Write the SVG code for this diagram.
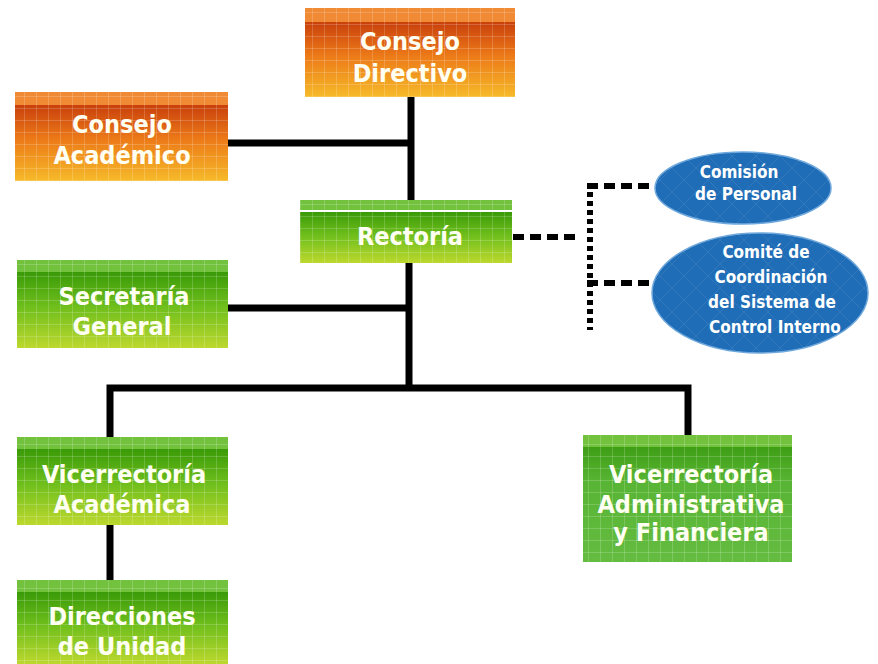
<svg xmlns="http://www.w3.org/2000/svg" width="878" height="664" viewBox="0 0 878 664">
<defs>
  <linearGradient id="gOrange" x1="0" y1="0" x2="0" y2="1">
    <stop offset="0" stop-color="#C8400C"/>
    <stop offset="0.45" stop-color="#EC7A18"/>
    <stop offset="1" stop-color="#F6BA2A"/>
  </linearGradient>
  <linearGradient id="gGreen" x1="0" y1="0" x2="0" y2="1">
    <stop offset="0" stop-color="#3A9A08"/>
    <stop offset="0.45" stop-color="#6EBE1C"/>
    <stop offset="1" stop-color="#BCD82E"/>
  </linearGradient>
  <linearGradient id="gGreen2" x1="0" y1="0" x2="0" y2="1">
    <stop offset="0" stop-color="#3E9E14"/>
    <stop offset="0.3" stop-color="#58B434"/>
    <stop offset="1" stop-color="#64BC40"/>
  </linearGradient>
  <pattern id="grid" width="12" height="12" patternUnits="userSpaceOnUse">
    <path d="M0 0.5H12M0.5 0V12" stroke="#FFFFFF" stroke-opacity="0.18" stroke-width="1" fill="none"/>
  </pattern>
  <pattern id="diam" width="24" height="24" patternUnits="userSpaceOnUse">
    <path d="M0 0L24 24M24 0L0 24" stroke="#FFFFFF" stroke-opacity="0.08" stroke-width="1" fill="none"/>
  </pattern>
</defs>
<style>
  .t { font-family: "DejaVu Sans Condensed", "DejaVu Sans", sans-serif; font-stretch: condensed; font-weight: bold; font-size: 25px; fill: #FFFFF2; text-anchor: middle; }
  .s { font-family: "DejaVu Sans Condensed", "DejaVu Sans", sans-serif; font-stretch: condensed; font-weight: bold; font-size: 17px; fill: #FFFFFF; text-anchor: middle; }
  .band-o { fill: #F08A34; }
  .band-g { fill: #72C23E; }
  .body-o { fill: url(#gOrange); }
  .body-g { fill: url(#gGreen); }
  .tex { fill: url(#grid); }
  .ell { fill: #1F6DB6; stroke: #6FA8DC; stroke-width: 1.5; }
  .line { stroke: #000000; stroke-width: 7; fill: none; }
  .dash { stroke: #000000; stroke-width: 6; fill: none; stroke-dasharray: 11 6; }
  .dot { stroke: #000000; stroke-width: 6; fill: none; stroke-dasharray: 5 4; }
</style>

<g id="connectors">
  <path class="line" d="M411 97V200"/>
  <path class="line" d="M228 143H411"/>
  <path class="line" d="M409 263V388"/>
  <path class="line" d="M228 308H409"/>
  <path class="line" d="M110 437V388H688V435"/>
  <path class="line" d="M110 525V580"/>
  <path class="dash" d="M513 237H576"/>
  <path class="dot" d="M590 183V330"/>
  <path class="dash" d="M587 186H655"/>
  <path class="dash" d="M587 283H653"/>
</g>

<g id="consejo-directivo">
  <rect class="band-o" x="305" y="8" width="210" height="14"/>
  <rect class="body-o" x="305" y="22" width="210" height="75"/>
  <rect class="tex" x="305" y="8" width="210" height="89"/>
  <text class="t" x="410" y="50">Consejo</text>
  <text class="t" x="410" y="82">Directivo</text>
</g>

<g id="consejo-academico">
  <rect class="band-o" x="15" y="92" width="213" height="13"/>
  <rect class="body-o" x="15" y="105" width="213" height="76"/>
  <rect class="tex" x="15" y="92" width="213" height="89"/>
  <text class="t" x="122" y="133">Consejo</text>
  <text class="t" x="122" y="164">Académico</text>
</g>

<g id="rectoria">
  <rect class="band-g" x="300" y="200" width="212" height="10"/>
  <rect class="body-g" x="300" y="212" width="212" height="51"/>
  <rect class="tex" x="300" y="200" width="212" height="63"/>
  <text class="t" x="410" y="245">Rectoría</text>
</g>

<g id="secretaria-general">
  <rect class="band-g" x="17" y="260" width="211" height="12"/>
  <rect class="body-g" x="17" y="272" width="211" height="76"/>
  <rect class="tex" x="17" y="260" width="211" height="88"/>
  <text class="t" x="124" y="305">Secretaría</text>
  <text class="t" x="122" y="335">General</text>
</g>

<g id="vicerrectoria-academica">
  <rect class="band-g" x="17" y="437" width="211" height="12"/>
  <rect class="body-g" x="17" y="449" width="211" height="76"/>
  <rect class="tex" x="17" y="437" width="211" height="88"/>
  <text class="t" x="124" y="483">Vicerrectoría</text>
  <text class="t" x="122" y="513">Académica</text>
</g>

<g id="direcciones-unidad">
  <rect class="band-g" x="17" y="580" width="211" height="12"/>
  <rect class="body-g" x="17" y="592" width="211" height="72"/>
  <rect class="tex" x="17" y="580" width="211" height="84"/>
  <text class="t" x="122" y="625">Direcciones</text>
  <text class="t" x="122" y="655">de Unidad</text>
</g>

<g id="vicerrectoria-administrativa">
  <rect class="band-g" x="583" y="435" width="209" height="12"/>
  <rect x="583" y="447" width="209" height="115" fill="url(#gGreen2)"/>
  <rect class="tex" x="583" y="435" width="209" height="127"/>
  <text class="t" x="691" y="483">Vicerrectoría</text>
  <text class="t" x="691" y="513">Administrativa</text>
  <text class="t" x="691" y="541">y Financiera</text>
</g>

<g id="comision-personal">
  <ellipse class="ell" cx="743" cy="188" rx="88" ry="36"/>
  <ellipse cx="743" cy="188" rx="88" ry="36" fill="url(#diam)"/>
  <text class="s" x="739" y="178">Comisión</text>
  <text class="s" x="746" y="200">de  Personal</text>
</g>

<g id="comite-coordinacion">
  <ellipse class="ell" cx="760" cy="293" rx="108" ry="60"/>
  <ellipse cx="760" cy="293" rx="108" ry="60" fill="url(#diam)"/>
  <text class="s" x="766" y="258">Comité de</text>
  <text class="s" x="771" y="283">Coordinación</text>
  <text class="s" x="772" y="308">del Sistema de</text>
  <text class="s" x="775" y="333">Control Interno</text>
</g>
</svg>
